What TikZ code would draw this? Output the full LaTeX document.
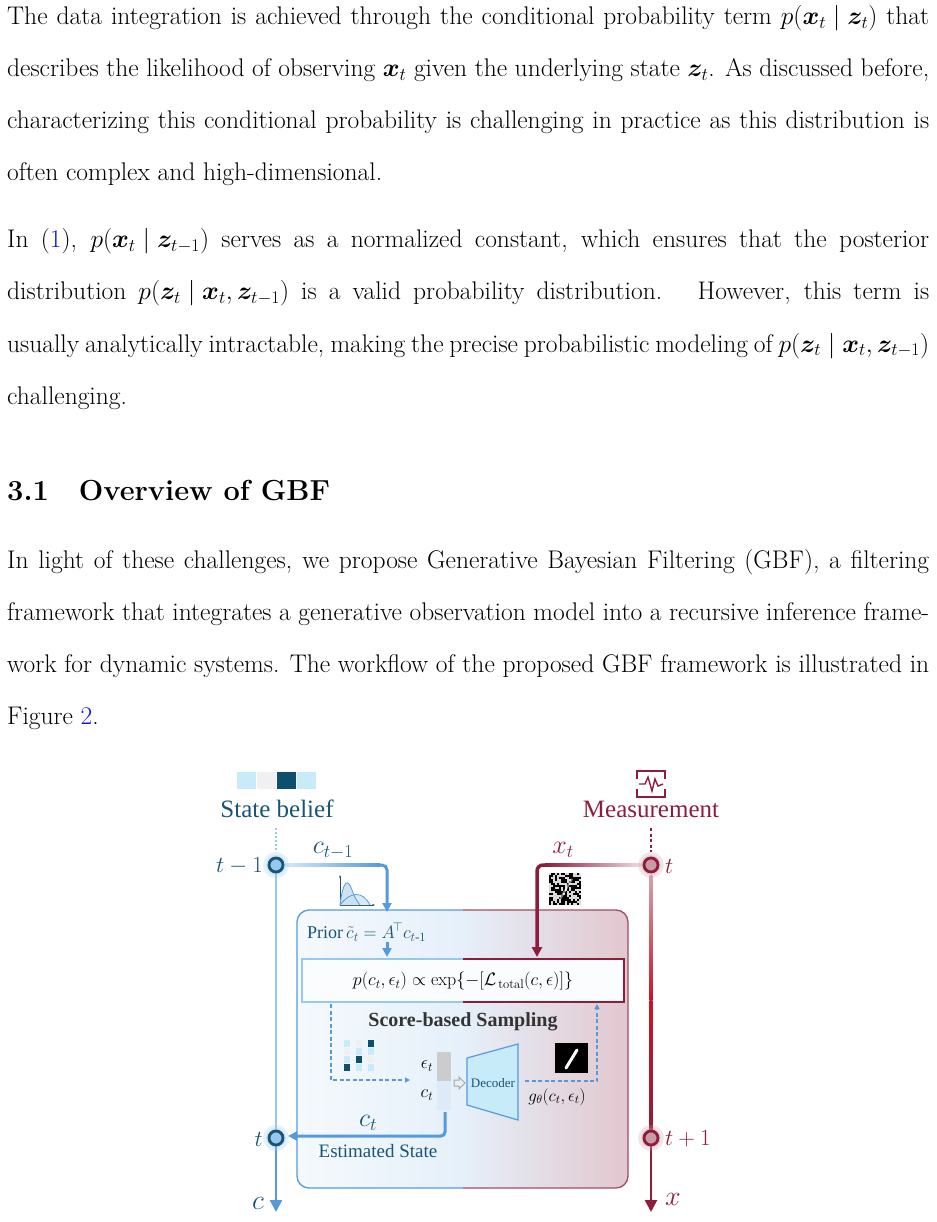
\RequirePackage{fix-cm}
\documentclass[tikz,border=0pt]{standalone}
\usepackage{amsmath,amssymb,bm}
\usepackage{fontspec}
\newfontfamily\figfont{Liberation Serif}
\usetikzlibrary{arrows.meta,calc}
\definecolor{lnk}{RGB}{20,20,230}
\definecolor{bl}{RGB}{85,155,220}
\definecolor{bllt}{RGB}{150,200,240}
\definecolor{dbl}{RGB}{25,85,115}
\definecolor{rd}{RGB}{140,30,60}
\definecolor{rdb}{RGB}{200,20,40}
\definecolor{sq1}{RGB}{200,235,250}
\definecolor{sq2}{RGB}{240,240,242}
\definecolor{sq3}{RGB}{12,80,110}
\newcommand\jl[1]{\makebox[922pt][s]{#1}}
\thickmuskip=5mu\relax
\medmuskip=4mu\relax
\tikzset{
 txt/.style={anchor=base west,inner sep=0,font=\fontsize{25.5}{30}\selectfont},
 ft/.style={font=\figfont\fontsize{#1}{#1}\selectfont,inner sep=0},
 ax/.style={line width=2.5pt},
 dsh/.style={bl,line width=1.3pt,dash pattern=on 4pt off 2.5pt},
}
\begin{document}
\begin{tikzpicture}[x=1pt,y=-1pt]
\useasboundingbox (0,0) rectangle (936,1222);
\node[txt] (l1) at (7,25) {\jl{The data integration is achieved through the conditional probability term $p(\bm{x}_t\mid\bm{z}_t)$ that}};
\node[txt] (l2) at (7,77) {\jl{describes the likelihood of observing $\bm{x}_t$ given the underlying state $\bm{z}_t$. As discussed before,}};
\node[txt] (l3) at (7,129) {\jl{characterizing this conditional probability is challenging in practice as this distribution is}};
\node[txt] (l4) at (7,181) {often complex and high-dimensional.};
\node[txt] (m1) at (7,248) {\jl{In (\textcolor{lnk}{1}), $p(\bm{x}_t\mid\bm{z}_{t-1})$ serves as a normalized constant, which ensures that the posterior}};
\node[txt] (m2) at (7,300) {\jl{distribution $p(\bm{z}_t\mid\bm{x}_t,\bm{z}_{t-1})$ is a valid probability distribution. \ However, this term is}};
\node[txt] (m3) at (7,352) {\jl{usually analytically intractable, making the precise probabilistic modeling of $p(\bm{z}_t\mid\bm{x}_t,\bm{z}_{t-1})$}};
\node[txt] (m4) at (7,404) {challenging.};
\node[txt,font=\bfseries\fontsize{29}{32}\selectfont] (h) at (7,500) {3.1\hspace{30pt}Overview of GBF};
\node[txt] (n1) at (7,568) {\jl{In light of these challenges, we propose Generative Bayesian Filtering (GBF), a filtering}};
\node[txt] (n2) at (7,620) {\jl{framework that integrates a generative observation model into a recursive inference frame-}};
\node[txt] (n3) at (7,672) {\jl{work for dynamic systems. The workflow of the proposed GBF framework is illustrated in}};
\node[txt] (n4) at (7,724) {Figure \textcolor{lnk}{2}.};
% ===== figure =====
\shade[rounded corners=12pt,left color=bl!6,right color=rd!25,middle color=white!85!bl] (297,910) rectangle (628,1188);
\begin{scope}
\clip (280,900) rectangle (463,1200);
\draw[bl,line width=1.3pt,rounded corners=12pt] (297,910) rectangle (628,1188);
\end{scope}
\begin{scope}
\clip (463,900) rectangle (640,1200);
\draw[rd!80,line width=1.3pt,rounded corners=12pt] (297,910) rectangle (628,1188);
\end{scope}
\fill[white!70!bl!10] (302,959) rectangle (624,1002);
\draw[bllt,line width=1.2pt] (463,959) -- (302,959) -- (302,1002) -- (463,1002);
\draw[rd,line width=1.2pt] (463,959) -- (624,959) -- (624,1002) -- (463,1002);
\node (eq) at (463,981) {\fontsize{18}{18}\selectfont$p(c_t,\epsilon_t)\propto \exp\{-[\mathcal{L}_{\,\mathrm{total}}(c,\epsilon)]\}$};
\foreach \i/\c in {0/sq1,1/sq2,2/sq3,3/sq1}
  \fill[\c] (237+\i*20,772) rectangle ++(19,17);
\node[ft=25,text=dbl] (sb) at (277,809) {State belief};
\node[ft=25,text=rd] (ms) at (651,809) {Measurement};
\draw[rd,line width=1.8pt] (637,779) -- (637,771) -- (665,771) -- (665,779);
\draw[rd,line width=1.8pt] (637,789) -- (637,797) -- (665,797) -- (665,789);
\draw[rd,line width=1.4pt] (639,784) -- (645,784) -- (648,777) -- (652,791) -- (655,779) -- (658,786) -- (663,784);
\coordinate (ltop) at (276,828);
\coordinate (lbot) at (276,1212);
\coordinate (rtop) at (651,828);
\coordinate (rbot) at (651,1212);
\draw[bllt,line width=2pt,dash pattern=on 2pt off 2pt] (ltop) -- (276,852);
\draw[rd,line width=2.5pt,dash pattern=on 3pt off 2.5pt] (rtop) -- (651,852);
\draw[bllt,ax] (276,865) -- (276,1138);
\draw[bl,ax,-{Triangle[length=12pt,width=12pt]}] (276,1138) -- (lbot);
\shade[top color=rd!40,bottom color=rdb] (649.7,875) rectangle (652.3,1000);
\shade[top color=rdb,bottom color=rd] (649.7,1000) rectangle (652.3,1138);
\draw[rd,ax,-{Triangle[length=12pt,width=12pt]}] (651,1138) -- (rbot);
\shade[left color=bllt!40,right color=bl] (285,863.5) rectangle (380,866.5);
\draw[bl,line width=3pt,rounded corners=5pt,-{Triangle[length=9pt,width=9pt]}] (378,865) -- (387,865) -- (387,912);
\draw[bl,line width=3pt,-{Triangle[length=9pt,width=9pt]}] (387,942) -- (387,957);
\shade[left color=rd,right color=rd!15] (545,863.5) rectangle (642,866.5);
\draw[rd,line width=3.5pt,rounded corners=6pt,-{Triangle[length=10pt,width=10pt]}] (547,865) -- (537,865) -- (537,957);
\foreach \n/\x/\y/\c/\f in {a/276/865/dbl/bllt,b/276/1138/dbl/bllt,c/651/865/rd/rd!45,d/651/1138/rd/rd!45}{
  \fill[\f,opacity=0.25] (\x,\y) circle (13);
  \fill[\f,opacity=0.3] (\x,\y) circle (10);
  \draw[\c,line width=2.8pt,fill=\f] (\x,\y) circle (7) node (\n) {};
}
\node[ft=23,text=dbl,anchor=east] (tm1) at (263,866) {$t-1$};
\node[ft=23,text=dbl,anchor=east] (tt) at (263,1139) {$t$};
\node[ft=23,text=rd,anchor=west] (rt) at (665,866) {$t$};
\node[ft=23,text=rd,anchor=west] (rt1) at (665,1139) {$t+1$};
\node[ft=28,text=dbl] (lc) at (258,1203) {$c$};
\node[ft=28,text=rd] (lx) at (673,1199) {$x$};
\node[ft=26,text=dbl] (ctm1) at (333,851) {$c_{t-1}$};
\node[ft=26,text=rd] (xt) at (563,850) {$x_t$};
\node[ft=18,text=dbl,anchor=west] (prior) at (307,932) {Prior\,$\tilde c_t = A^{\!\top} c_{t\text{-}1}$};
\draw[dbl,line width=1pt,-{Stealth[length=3pt]}] (340,905) -- (340,875);
\draw[dbl,line width=1pt,-{Stealth[length=3pt]}] (340,905) -- (375,905);
\fill[bl!40,opacity=0.7] (340,905) .. controls (343,880) and (348,878) .. (352,890) .. controls (355,898) .. (360,905) -- cycle;
\fill[bl!30,opacity=0.7] (340,905) .. controls (350,892) and (362,890) .. (370,905) -- cycle;
\draw[bl,line width=0.8pt] (340,905) .. controls (343,880) and (348,878) .. (352,890) .. controls (355,898) .. (360,905);
\draw[bl,line width=0.8pt] (340,905) .. controls (350,892) and (362,890) .. (370,905);
\fill[black] (549,873) rectangle (581,905);
\pgfmathsetseed{7}
\foreach \i in {0,...,15}{\foreach \j in {0,...,15}{
  \pgfmathparse{rnd}\let\r\pgfmathresult
  \ifdim\r pt>0.55pt \fill[white,opacity=0.85] (549+\i*2,873+\j*2) rectangle ++(2,2);\fi}}
\draw[white,line width=2pt,opacity=0.5] (560,899) -- (572,879);
\node[font=\figfont\bfseries\fontsize{20}{20}\selectfont,inner sep=0,text=black!80] (sbs) at (463,1022) {Score-based Sampling};
\foreach \col/\a/\b/\c/\d in {0/sq1/sq2/sq1/sq3,1/sq2/sq1/sq3/sq1,2/sq3/sq1/sq2/sq1}{
  \fill[\a] (344+\col*12,1040) rectangle ++(6,7);
  \fill[\b] (344+\col*12,1048) rectangle ++(6,7);
  \fill[\c] (344+\col*12,1056) rectangle ++(6,7);
  \fill[\d] (344+\col*12,1064) rectangle ++(6,7);
}
\coordinate (dl) at (410,1080);
\draw[dsh,-{Triangle[length=5pt,width=5pt]}] (331,1004) -- (331,1080) -- (dl);
\fill[black!20] (437,1052) rectangle (451,1081);
\fill[bl!20] (437,1081) rectangle (451,1110);
\node[ft=18] (eps) at (427,1066) {$\epsilon_t$};
\node[ft=18] (ctb) at (427,1095) {$c_t$};
\draw[black!35,line width=1pt] (454,1080) -- (459,1080) -- (459,1077) -- (465,1083) -- (459,1089) -- (459,1086) -- (454,1086) -- cycle;
\draw[bl,fill=sq1,line width=1.2pt] (467,1058) -- (518,1044) -- (518,1120) -- (467,1105) -- cycle;
\node[ft=13,text=dbl] (dec) at (493,1083) {Decoder};
\draw[dsh,-{Triangle[length=5pt,width=5pt]}] (525,1081) -- (597,1081) -- (597,1004);
\fill[black] (555,1043) rectangle (588,1073);
\draw[white,line width=3pt,line cap=round] (566,1068) -- (577,1050);
\node[ft=17] (g) at (557,1097) {$g_\theta(c_t,\epsilon_t)$};
\draw[bl,line width=3pt,rounded corners=4pt,-{Triangle[length=9pt,width=9pt]}] (445,1112) -- (445,1136) -- (288,1136);
\node[ft=26,text=dbl] (ctl) at (368,1123) {$c_t$};
\node[ft=19,text=dbl] (est) at (378,1151) {Estimated State};
\end{tikzpicture}
\end{document}
